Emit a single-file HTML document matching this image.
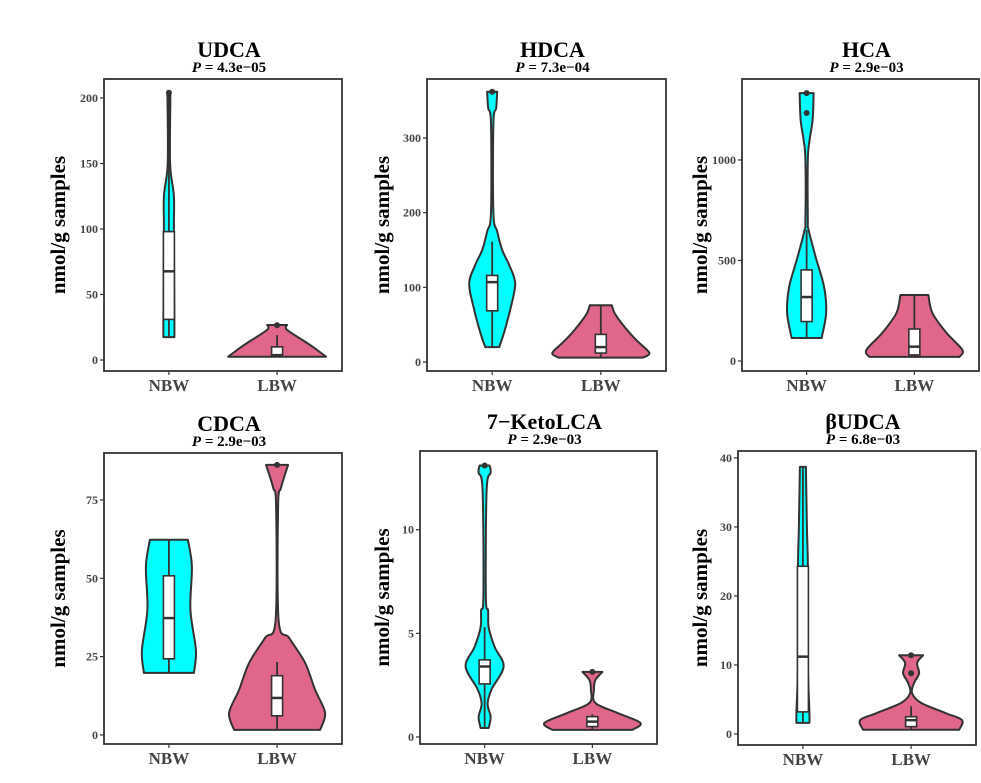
<!DOCTYPE html>
<html><head><meta charset="utf-8">
<style>
html,body{margin:0;padding:0;background:#fff;}
svg{display:block;font-family:"Liberation Serif","DejaVu Serif",serif;}
</style></head>
<body>
<svg id="chart" width="981" height="783" viewBox="0 0 981 783" xmlns="http://www.w3.org/2000/svg"></svg>
<script>
// ---- data ----
const panelNames = ["UDCA","HDCA","HCA","CDCA","7\u2212KetoLCA","\u03B2UDCA"];
const pValues = ["4.3e\u221205","7.3e\u221204","2.9e\u221203","2.9e\u221203","2.9e\u221203","6.8e\u221203"];
const categories = ["NBW","LBW"];
const yTicks = [[0,50,100,150,200],[0,100,200,300],[0,500,1000],[0,25,50,75],[0,5,10],[0,10,20,30,40]];
const yDomains = [[-8.4,214.5],[-12,379],[-50,1403],[-2.9,90],[-0.34,13.8],[-1.6,41]];
// violin density profiles: [value, half-width]
const violinNBW = [
 [[17.5,5.5],[31,5.5],[98,5],[125,5],[150,1.2],[204,1.5]],
 [[20,7],[40,12],[70,18],[105,23],[130,17],[150,10],[175,5],[200,1.2],[320,1.2],[340,4],[362,5]],
 [[114,15],[238,19.5],[368,17.5],[518,9],[652,2],[700,1.2],[1000,1.2],[1100,3],[1200,6],[1333,7]],
 [[19.8,25],[27,27],[40,21.5],[53.7,23],[62.3,19]],
 [[0.43,4],[0.97,6],[1.6,3],[2.3,7],[3.4,19],[4.35,10],[5.3,4],[6.1,3.5],[6.8,1.2],[11.9,2],[12.75,6],[13.1,5]],
 [[1.6,6.5],[3.2,6.5],[10,5],[24,5],[30,4],[38.7,3]]
];
const violinLBW = [
 [[2.5,49],[7.6,40],[13,30],[23,10],[26.7,10]],
 [[6,42],[10,48],[15,47],[30,35],[50,22],[65,14],[76,11]],
 [[20,45],[55,48],[140,32],[238,18],[328,14]],
 [[1.6,43],[7,48],[14.4,38],[23,28],[31,12],[36.7,1.5],[73,1],[79,4],[86.2,11]],
 [[0.34,40],[0.68,48],[1.16,25],[1.64,3],[2.27,1.5],[2.75,3],[3.14,10]],
 [[0.6,48],[2,51],[3,35],[4.5,10],[5.9,1],[7.4,3],[8.8,8],[10.3,6],[11.4,12]]
];
// box stats: [whiskerLow, q1, median, q3, whiskerHigh]
const boxNBW = [[17.5,31,67.7,98,204],[20,68.6,107,116,161],[114,196,318,453,652],[19.8,24.3,37.3,50.8,62.3],[0.43,2.56,3.4,3.72,5.3],[1.6,3.2,11.2,24.3,38.7]];
const boxLBW = [[2.5,2.5,3.7,10,19],[6,12,20,37,76],[20,30,71,159,328],[1.6,6.1,11.8,18.9,23.3],[0.34,0.5,0.74,0.98,1.1],[0.6,1.06,2,2.5,4]];
const outNBW = [[204],[362],[1333,1234],[],[13.1],[]];
const outLBW = [[26.5],[],[],[86.2],[3.14],[11.4,8.8]];

// ---- layout ----
const rects = [[104,79,238,292],[427,79,239,292],[742,79,237,292],[104,453,238,291],[420,451,237,293],[738,451,238,294]];
const ytX = [65,389,707,65,389,707];
const colors = ["#00FFFF","#E0668A"];
const NS="http://www.w3.org/2000/svg";
const svg=document.getElementById('chart');
function mk(tag,attrs,parent){const e=document.createElementNS(NS,tag);for(const k in attrs)e.setAttribute(k,attrs[k]);(parent||svg).appendChild(e);return e;}
function smoothSide(pts){
  // Catmull-Rom through points -> cubic segments
  let d='';
  for(let k=0;k<pts.length-1;k++){
    const p0=pts[Math.max(0,k-1)],p1=pts[k],p2=pts[k+1],p3=pts[Math.min(pts.length-1,k+2)];
    const c1=[p1[0]+(p2[0]-p0[0])/6,p1[1]+(p2[1]-p0[1])/6];
    const c2=[p2[0]-(p3[0]-p1[0])/6,p2[1]-(p3[1]-p1[1])/6];
    d+=`C${c1[0].toFixed(1)},${c1[1].toFixed(1)} ${c2[0].toFixed(1)},${c2[1].toFixed(1)} ${p2[0].toFixed(1)},${p2[1].toFixed(1)}`;
  }
  return d;
}

panelNames.forEach((name,p)=>{
  const [L,T,W,H]=rects[p];
  const [lo,hi]=yDomains[p];
  const y=v=>T+H-(v-lo)/(hi-lo)*H;
  const x=i=>L+W*(i+0.6)/2.2;
  const g=mk('g',{});
  
  
  const t=mk('text',{x:L+W/2+6,y:T-22,'text-anchor':'middle','font-size':22,'font-weight':'bold',fill:'#000'},g);
  t.textContent=name;
  
  
  const pt=mk('text',{x:L+W/2+6,y:T-7,'text-anchor':'middle','font-size':15,'font-weight':'bold',fill:'#000'},g);
  
  
  const ts=mk('tspan',{'font-style':'italic'},pt); ts.textContent='P';
  const ts2=mk('tspan',{},pt); ts2.textContent=' = '+pValues[p];
  const yt=mk('text',{x:ytX[p],y:T+H/2,'text-anchor':'middle','font-size':21,'font-weight':'bold',fill:'#000',transform:`rotate(-90 ${ytX[p]} ${T+H/2})`},g);
  yt.textContent='nmol/g samples';
  
  
  yTicks[p].forEach(v=>{
    const tl=mk('line',{x1:L-4,x2:L,y1:y(v),y2:y(v),stroke:'#333','stroke-width':1.2},g);
    
    
    const tx=mk('text',{x:L-6,y:y(v)+4,'text-anchor':'end','font-size':12,'font-weight':'bold',fill:'#444'},g);
    tx.textContent=v;
    
    
  });
  categories.forEach((c,i)=>{
    const tl=mk('line',{x1:x(i),x2:x(i),y1:T+H,y2:T+H+4,stroke:'#333','stroke-width':1.2},g);
    
    
    const tx=mk('text',{x:x(i),y:T+H+20,'text-anchor':'middle','font-size':17,'font-weight':'bold',fill:'#444'},g);
    tx.textContent=c;
    
    
  });
  [violinNBW[p],violinLBW[p]].forEach((prof,i)=>{
    const cx=x(i);
    const right=prof.map(([v,w])=>[cx+w,y(v)]);
    const left=prof.slice().reverse().map(([v,w])=>[cx-w,y(v)]);
    const d='M'+right[0][0].toFixed(1)+','+right[0][1].toFixed(1)+smoothSide(right)+
      'L'+left[0][0].toFixed(1)+','+left[0][1].toFixed(1)+smoothSide(left)+'Z';
    const vp=mk('path',{d:d,fill:colors[i],stroke:'#333','stroke-width':2,'stroke-linejoin':'round'},g);
    
    
    const b=(i?boxLBW:boxNBW)[p];
    const wl=mk('line',{x1:cx,x2:cx,y1:y(b[0]),y2:y(b[4]),stroke:'#333','stroke-width':1.8},g);
    
    
    const br=mk('rect',{x:cx-5.5,y:y(b[3]),width:11,height:Math.max(1,y(b[1])-y(b[3])),fill:'#fff',stroke:'#333','stroke-width':1.6},g);
    
    
    const ml=mk('line',{x1:cx-5.5,x2:cx+5.5,y1:y(b[2]),y2:y(b[2]),stroke:'#333','stroke-width':2.5},g);
    
    
    (i?outLBW:outNBW)[p].forEach(v=>{
      const c=mk('circle',{cx:cx,cy:y(v),r:3,fill:'#333'},g);
      
      
    });
  });
  const fr=mk('rect',{x:L,y:T,width:W,height:H,fill:'none',stroke:'#333','stroke-width':1.8},g);
  
  
});
</script>
</body></html>
